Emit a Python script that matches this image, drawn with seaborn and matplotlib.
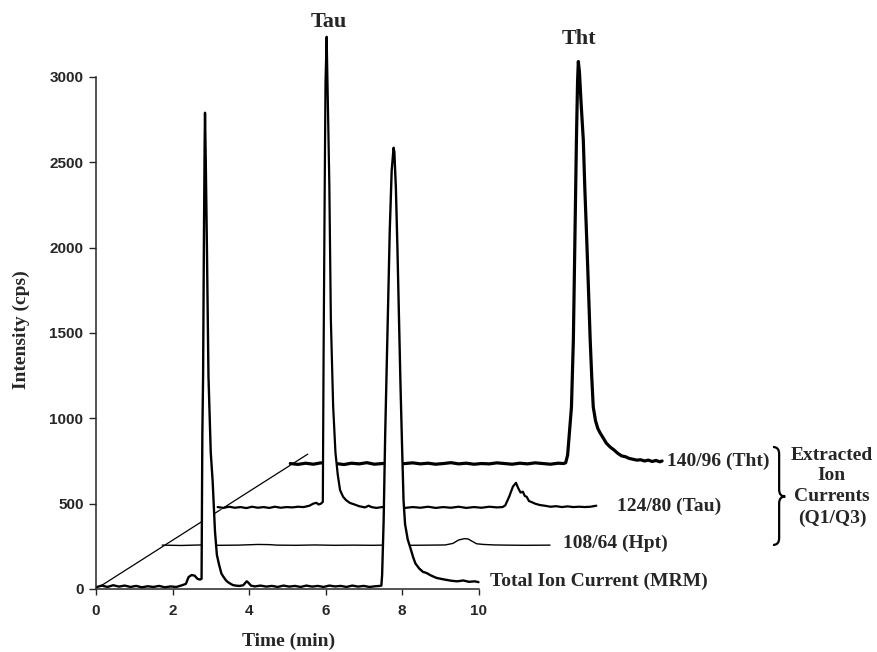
import numpy as np
import matplotlib
matplotlib.use('Agg')
import matplotlib.pyplot as plt
import seaborn as sns
from matplotlib.path import Path
from matplotlib.patches import PathPatch

# ===
# data (time in min, intensity in cps above each trace's own baseline)
# ===

tic_time = [0.00, 0.15, 0.30, 0.45, 0.60, 0.75, 0.90, 1.05, 1.20, 1.35, 1.50, 1.65, 1.80, 1.95,
            2.10, 2.25, 2.35, 2.42, 2.50, 2.58, 2.65, 2.72, 2.76, 2.78, 2.80, 2.82, 2.84, 2.85,
            2.87, 2.90, 2.94, 3.00, 3.05, 3.11, 3.16, 3.22, 3.28, 3.33, 3.40, 3.45, 3.52, 3.58,
            3.65, 3.75, 3.85, 3.90, 3.94, 3.98, 4.05, 4.15, 4.30, 4.45, 4.60, 4.75, 4.90, 5.05,
            5.20, 5.35, 5.50, 5.65, 5.80, 5.95, 6.10, 6.25, 6.40, 6.55, 6.70, 6.85, 7.00, 7.15,
            7.30, 7.42, 7.46, 7.48, 7.52, 7.56, 7.60, 7.64, 7.68, 7.73, 7.78, 7.80, 7.84, 7.88,
            7.92, 7.96, 8.00, 8.04, 8.08, 8.15, 8.22, 8.29, 8.35, 8.45, 8.55, 8.64, 8.75, 8.90,
            9.05, 9.17, 9.30, 9.45, 9.60, 9.75, 9.90, 10.00]
tic_int = [10, 20, 12, 22, 14, 20, 12, 18, 10, 16, 12, 18, 10, 15,
           12, 22, 30, 70, 82, 78, 60, 55, 60, 900, 1250, 2000, 2600, 2790,
           2500, 2000, 1250, 800, 630, 340, 200, 140, 90, 72, 50, 40, 30, 23,
           20, 18, 22, 35, 45, 38, 20, 15, 20, 14, 18, 12, 20, 14,
           18, 12, 20, 14, 18, 12, 20, 15, 18, 12, 20, 14, 18, 12,
           16, 18, 20, 80, 400, 900, 1300, 1700, 2100, 2450, 2585, 2560, 2350, 2000,
           1600, 1200, 850, 520, 380, 290, 240, 187, 150, 120, 100, 94, 80, 65,
           58, 53, 48, 45, 50, 42, 45, 40]

hpt_time = [0.0, 0.5, 1.0, 1.5, 2.0, 2.5, 2.8, 3.0, 3.5, 4.0, 4.5, 5.0, 5.5, 6.0, 6.5,
            7.0, 7.4, 7.6, 7.75, 7.9, 8.0, 8.1, 8.22, 8.4, 8.7, 9.0, 9.5, 10.14]
hpt_int = [2, 0, 3, 1, 2, 6, 5, 2, 1, 3, 1, 2, 1, 3, 1,
           2, 3, 12, 32, 40, 38, 25, 10, 6, 3, 2, 1, 2]

tau_time = [0.00, 0.15, 0.30, 0.45, 0.60, 0.75, 0.90, 1.05, 1.20, 1.35, 1.50, 1.65, 1.80, 1.95,
            2.10, 2.25, 2.40, 2.50, 2.58, 2.64, 2.70, 2.75, 2.77, 2.80, 2.82, 2.85, 2.88, 2.92,
            2.96, 3.02, 3.08, 3.14, 3.20, 3.28, 3.36, 3.46, 3.58, 3.70, 3.85, 3.95, 4.02, 4.15,
            4.30, 4.50, 4.70, 4.90, 5.10, 5.30, 5.50, 5.70, 5.90, 6.10, 6.30, 6.50, 6.70, 6.90,
            7.10, 7.30, 7.45, 7.52, 7.62, 7.72, 7.80, 7.86, 7.92, 7.98, 8.03, 8.08, 8.14, 8.20,
            8.30, 8.42, 8.55, 8.70, 8.85, 9.00, 9.15, 9.30, 9.45, 9.60, 9.75, 9.90]
tau_int = [10, 5, 12, 6, 10, 4, 12, 6, 10, 5, 12, 6, 10, 8,
           12, 10, 18, 30, 35, 25, 30, 40, 900, 1900, 2500, 2765, 2400, 1900,
           1110, 600, 330, 200, 110, 70, 50, 34, 25, 15, 8, 18, 10, 5,
           10, 6, 12, 5, 10, 6, 12, 5, 10, 6, 12, 5, 10, 6,
           12, 8, 10, 20, 70, 130, 152, 120, 95, 100, 75, 70, 45, 40,
           30, 22, 18, 12, 15, 10, 14, 10, 12, 10, 12, 18]

tht_time = [0.00, 0.20, 0.40, 0.60, 0.80, 1.00, 1.20, 1.40, 1.60, 1.80, 2.00, 2.20, 2.40, 2.60,
            2.80, 3.00, 3.20, 3.40, 3.60, 3.80, 4.00, 4.20, 4.40, 4.60, 4.80, 5.00, 5.20, 5.40,
            5.60, 5.80, 6.00, 6.20, 6.40, 6.60, 6.80, 7.00, 7.15, 7.20, 7.25, 7.30, 7.35, 7.40,
            7.44, 7.48, 7.51, 7.53, 7.56, 7.60, 7.66, 7.70, 7.75, 7.80, 7.84, 7.88, 7.92,
            7.98, 8.04, 8.10, 8.18, 8.26, 8.36, 8.46, 8.56, 8.66, 8.76, 8.86, 8.96, 9.06, 9.16,
            9.26, 9.36, 9.46, 9.56, 9.66, 9.72]
tht_int = [10, 5, 12, 6, 14, 8, 10, 4, 12, 8, 15, 6, 10, 12,
           6, 10, 14, 8, 12, 6, 10, 15, 8, 12, 6, 10, 8, 14,
           10, 6, 12, 8, 14, 10, 6, 12, 10, 15, 60, 200, 340, 734,
           1320, 1905, 2250, 2365, 2300, 2130, 1905, 1620, 1320, 1000, 734, 520, 341,
           260, 215, 189, 160, 130, 107, 90, 70, 55, 50, 40, 35, 30, 32,
           25, 30, 22, 28, 20, 25]

trace_labels = ['140/96 (Tht)', '124/80 (Tau)', '108/64 (Hpt)', 'Total Ion Current (MRM)']
peak_labels = ['Tau', 'Tht']
group_label = 'Extracted\nIon\nCurrents\n(Q1/Q3)'

# pseudo-3D offsets (dx in min, dy in cps) for each stacked trace, back to front
offsets = {'tht': (5.08, 725), 'tau': (3.18, 470), 'hpt': (1.73, 255), 'tic': (0.0, 0)}

# ===
# plot
# ===

sns.set_style('ticks')
plt.rcParams['font.family'] = ['Liberation Serif', 'DejaVu Serif']

fig = plt.figure(figsize=(8.77, 6.52), dpi=100)
ax = fig.add_axes([96 / 877, 63 / 652, 765 / 877, 583.8 / 652])
ax.set_xlim(0, 20)
ax.set_ylim(0, 3420)

traces = [
    (tht_time, tht_int, offsets['tht'], 2.3),
    (tau_time, tau_int, offsets['tau'], 1.6),
    (hpt_time, hpt_int, offsets['hpt'], 1.0),
    (tic_time, tic_int, offsets['tic'], 1.7),
]

# diagonal time-axis guide for the stacked traces
dx_back, dy_back = offsets['tht']
ax.plot([0, dx_back * 1.09], [0, dy_back * 1.09], color='black', lw=0.9, zorder=1)

z = 2
for t, v, (dx, dy), lw in traces:
    x = np.array(t) + dx
    y = np.array(v) + dy
    ax.fill_between(x, dy, y, color='white', lw=0, zorder=z)
    sns.lineplot(x=x, y=y, ax=ax, color='black', lw=lw, zorder=z + 0.5,
                 estimator=None, sort=False)
    z += 1

sns.despine(ax=ax)
ax.spines['left'].set_bounds(0, 3000)
ax.spines['bottom'].set_bounds(0, 10)
for s in ['left', 'bottom']:
    ax.spines[s].set_linewidth(1.1)
    ax.spines[s].set_zorder(10)

ax.set_xticks(range(0, 11, 2))
ax.set_yticks(range(0, 3001, 500))
ax.tick_params(axis='y', length=5, width=1.0, pad=4)
ax.tick_params(axis='x', length=4, width=1.0, pad=7)
for label in ax.get_xticklabels() + ax.get_yticklabels():
    label.set_fontfamily('Liberation Sans')
    label.set_fontweight('bold')
    label.set_fontsize(11)

ax.set_xlabel('Time (min)', fontsize=14, fontweight='bold')
ax.set_ylabel('Intensity (cps)', fontsize=14, fontweight='bold')
ax.xaxis.set_label_coords(0.2523, -0.075)
ax.yaxis.set_label_coords(-0.086, 0.444)

txt = dict(fontsize=14, fontweight='bold', clip_on=False)
ax.text(6.09, 3322, peak_labels[0], ha='center', va='center', fontsize=16,
        fontweight='bold', clip_on=False)
ax.text(12.63, 3222, peak_labels[1], ha='center', va='center', fontsize=16,
        fontweight='bold', clip_on=False)
ax.text(14.92, 746, trace_labels[0], ha='left', va='center', **txt)
ax.text(13.61, 482, trace_labels[1], ha='left', va='center', **txt)
ax.text(12.22, 268, trace_labels[2], ha='left', va='center', **txt)
ax.text(10.30, 43, trace_labels[3], ha='left', va='center', **txt)
ax.text(19.24, 600, group_label, ha='center', va='center', linespacing=1.3, **txt)

# curly brace grouping the extracted ion currents
x0, x1, x2 = 17.70, 17.86, 18.02
ytop, ymid, ybot, r = 832, 542, 258, 40
verts = [(x0, ytop), (x1, ytop), (x1, ytop - r),
         (x1, ymid + r), (x1, ymid), (x2, ymid),
         (x1, ymid), (x1, ymid - r),
         (x1, ybot + r), (x1, ybot), (x0, ybot)]
codes = [Path.MOVETO, Path.CURVE3, Path.CURVE3,
         Path.LINETO, Path.CURVE3, Path.CURVE3,
         Path.CURVE3, Path.CURVE3,
         Path.LINETO, Path.CURVE3, Path.CURVE3]
ax.add_patch(PathPatch(Path(verts, codes), fill=False, lw=1.6, color='black', clip_on=False))

fig.savefig('out.png', dpi=100)
